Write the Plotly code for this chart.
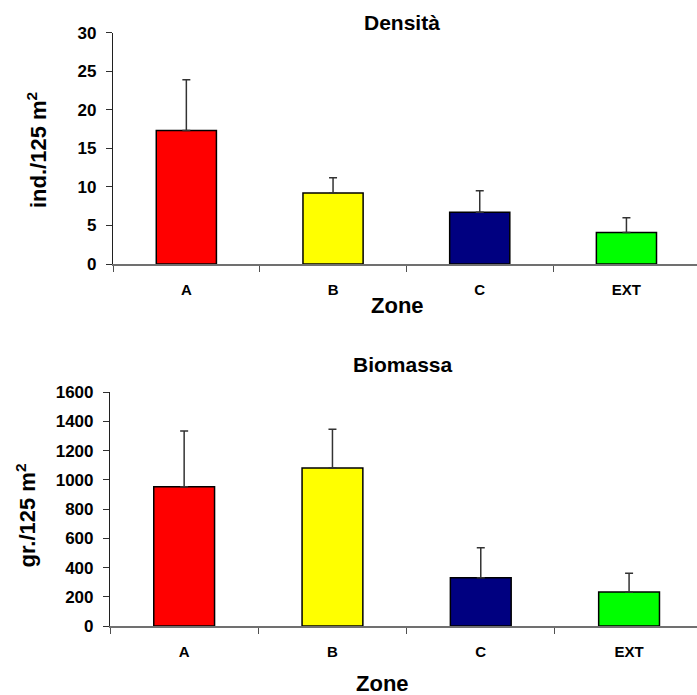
import plotly.graph_objects as go

W, H = 697, 695

zones = ["A", "B", "C", "EXT"]
bar_colors = ["#FF0000", "#FFFF00", "#000080", "#00FF00"]

densita = [17.3, 9.2, 6.7, 4.1]
densita_err = [6.6, 2.0, 2.8, 1.9]

biomassa = [954, 1082, 331, 233]
biomassa_err = [381, 265, 205, 128]

FONT = "Liberation Sans, Arial, sans-serif"


def px(x):
    return x / W


def py(y):
    return 1 - y / H


fig = go.Figure()

for vals, errs, xa, ya in [
    (densita, densita_err, "x", "y"),
    (biomassa, biomassa_err, "x2", "y2"),
]:
    fig.add_trace(go.Bar(
        x=zones, y=vals, xaxis=xa, yaxis=ya, width=0.41,
        marker=dict(color=bar_colors, line=dict(color="#000000", width=1.5)),
        error_y=dict(type="data", array=errs, arrayminus=[0] * len(errs),
                     symmetric=False, color="#333333", thickness=1.5, width=4),
        showlegend=False, hoverinfo="skip",
    ))

xcommon = dict(
    type="category", showgrid=False, zeroline=False, showline=True,
    linecolor="#707070", linewidth=1.5, ticks="outside", tickson="boundaries",
    ticklen=6, tickcolor="#505050", tickwidth=1, ticklabelstandoff=11,
    tickfont=dict(family=FONT, size=15, color="#000000", weight="bold"),
    automargin=False, fixedrange=True,
)
ycommon = dict(
    showgrid=False, zeroline=False, showline=True, linecolor="#202020",
    linewidth=1.2, ticks="outside", ticklen=6, tickcolor="#303030",
    ticklabelstandoff=6,
    tickfont=dict(family=FONT, size=17, color="#000000", weight="bold"),
    automargin=False, fixedrange=True,
)

fig.update_layout(
    width=W, height=H,
    margin=dict(l=0, r=0, t=0, b=0),
    paper_bgcolor="white", plot_bgcolor="white",
    bargap=0.59,
    xaxis=dict(xcommon, domain=[px(113), 1], range=[-0.5, 3.481], anchor="y"),
    yaxis=dict(ycommon, domain=[py(264), py(32.7)], range=[0, 30],
               dtick=5, anchor="x"),
    xaxis2=dict(xcommon, domain=[px(110), 1], range=[-0.5, 3.458], anchor="y2"),
    yaxis2=dict(ycommon, domain=[py(626), py(392.3)], range=[0, 1600],
                dtick=200, anchor="x2"),
)

labels = [
    ("<b>Densità</b>", 401.7, 23, 21, 0),
    ("<b>Zone</b>", 397.7, 305.7, 22, 0),
    ("<b>ind./125 m<sup>2</sup></b>", 37, 150, 22, -90),
    ("<b>Biomassa</b>", 403.3, 364, 21, 0),
    ("<b>Zone</b>", 382.7, 683, 22, 0),
    ("<b>gr./125 m<sup>2</sup></b>", 25.5, 516, 22, -90),
]
for text, x, y, size, ang in labels:
    fig.add_annotation(
        text=text, x=px(x), y=py(y), xref="paper", yref="paper",
        xanchor="center", yanchor="middle", showarrow=False, textangle=ang,
        font=dict(family=FONT, size=size, color="#000000"),
    )

fig.write_html("out.html")
